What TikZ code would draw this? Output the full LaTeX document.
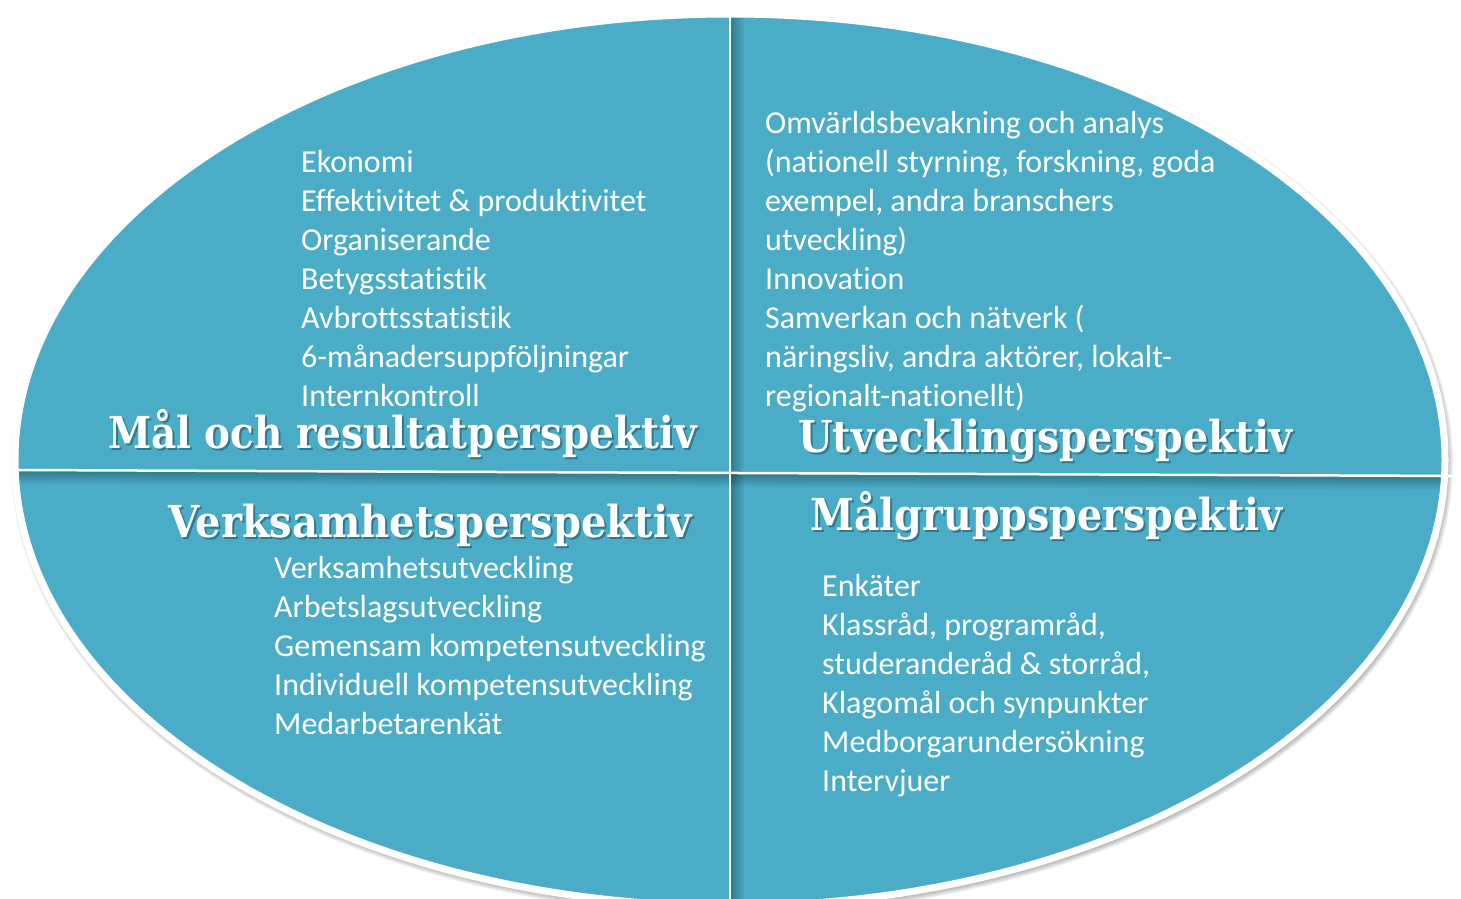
\documentclass[tikz,border=0pt]{standalone}
\usepackage{fontspec}
\setmainfont{Carlito}[Ligatures=NoCommon]
\newfontfamily\titlefont{DejaVu Serif}
\definecolor{aqua}{HTML}{4AACC6}
\tikzset{
  itemlist/.style={anchor=base west, align=left, text=white, inner sep=0pt,
    font=\fontsize{32}{39}\selectfont},
  heading/.style={anchor=base west, inner sep=0pt, text=white,
    font=\titlefont\bfseries\fontsize{44}{48}\selectfont},
  headshade/.style={heading, text=black, opacity=0.3, xshift=2pt, yshift=-2.5pt}
}
\newcommand{\perspective}[4]{%
  \node[headshade] (#1s) at (#2) {\scalebox{#3}[1]{#4}};
  \node[heading] (#1) at (#2) {\scalebox{#3}[1]{#4}};}

\begin{document}
\begin{tikzpicture}[x=1pt,y=-1pt]
\useasboundingbox (0,0) rectangle (1461,899);
\clip (0,0) rectangle (1461,899);
\coordinate (c) at (730,460);
\coordinate (vtop) at (730,14);
\coordinate (vbot) at (730,899);
\coordinate (hl) at (18,470);
\coordinate (hr) at (1461,476);
% disc with soft shadow
\foreach \s in {1,...,6}
  \fill[black, opacity=0.05] (732,463) ellipse ({715+\s} and {446+\s});
\fill[aqua] (c) ellipse (715 and 446);
% shadows of the dividers
\begin{scope}
  \clip (c) ellipse (715 and 446);
  \foreach \d in {1,...,8} {
    \fill[black, opacity=0.035] (731,0) rectangle ({731+\d*1.6},899);
    \fill[black, opacity=0.035] (18,471) -- (1461,477) -- (1461,{477+\d*1.6})
      -- (18,{471+\d*1.6}) -- cycle;
  }
\end{scope}
\draw[white, line width=2.5] (vtop) -- (vbot);
\draw[white, line width=2.5] (hl) -- (hr);
\draw[white, line width=7] (c) ellipse (715 and 446);
% quarter texts (placed at the baseline of their last line)
\node[itemlist] (ekon) at (301,406) {Ekonomi\\Effektivitet \& produktivitet\\Organiserande\\
  Betygsstatistik\\Avbrottsstatistik\\6-månadersuppföljningar\\Internkontroll};
\node[itemlist] (omv) at (765,406) {Omvärldsbevakning och analys\\(nationell styrning, forskning, goda\\
  exempel, andra branschers\\utveckling)\\Innovation\\Samverkan och nätverk (\\
  näringsliv, andra aktörer, lokalt-\\regionalt-nationellt)};
\node[itemlist] (verk) at (274,734) {Verksamhetsutveckling\\Arbetslagsutveckling\\
  Gemensam kompetensutveckling\\Individuell kompetensutveckling\\Medarbetarenkät};
\node[itemlist] (enk) at (822,791) {Enkäter\\Klassråd, programråd,\\studeranderåd \& storråd,\\
  Klagomål och synpunkter\\Medborgarundersökning\\Intervjuer};
% headings
\perspective{mal}{108,448}{0.885}{Mål och resultatperspektiv}
\perspective{utv}{798,452}{0.9}{Utvecklingsperspektiv}
\perspective{ver}{168,537}{0.91}{Verksamhetsperspektiv}
\perspective{grp}{810,530}{0.9}{Målgruppsperspektiv}
\end{tikzpicture}
\end{document}
